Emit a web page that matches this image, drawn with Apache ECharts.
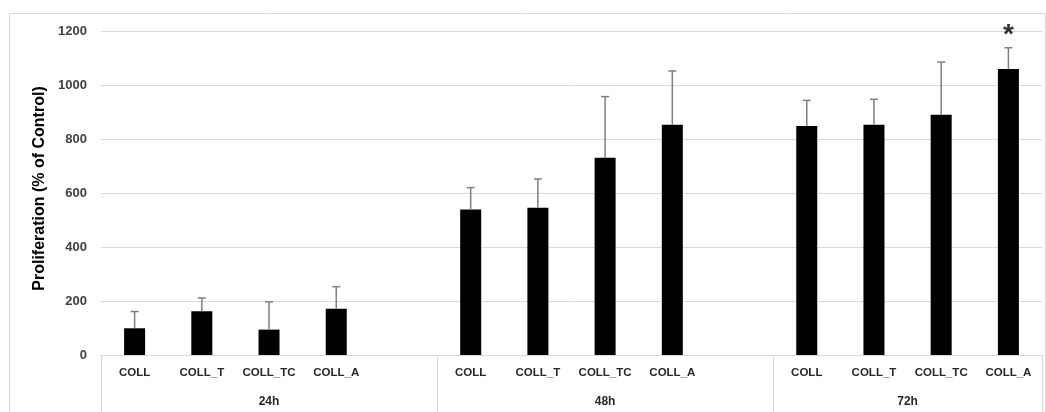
<!DOCTYPE html>
<html><head><meta charset="utf-8">
<script src="https://cdn.jsdelivr.net/npm/echarts@6/dist/echarts.min.js"></script>
<style>html,body{margin:0;padding:0;background:#fff}#c{width:1046px;height:412px}</style>
</head><body><div id="c"></div>
<script>
// ---- data ----
var conditions = ['COLL', 'COLL_T', 'COLL_TC', 'COLL_A'];
var groups = ['24h', '48h', '72h'];
var mean24 = [99, 162, 94, 171];
var sd24   = [62, 49, 103, 82];
var mean48 = [539, 545, 731, 853];
var sd48   = [81, 107, 226, 199];
var mean72 = [848, 853, 890, 1059];
var sd72   = [95, 94, 195, 79];
var significant = [[2, 3]]; // [group index, condition index] marked with *
var yTicks = [0, 200, 400, 600, 800, 1000, 1200];

// ---- build slots (4 bars + 1 gap per group, last group without gap) ----
var means = [mean24, mean48, mean72];
var sds = [sd24, sd48, sd72];
var cats = [], barData = [], errData = [], spans = [], starts = [];
groups.forEach(function (g, gi) {
  starts.push(cats.length);
  conditions.forEach(function (c, ci) {
    var idx = cats.length;
    cats.push(c);
    barData.push(means[gi][ci]);
    errData.push([idx, means[gi][ci], means[gi][ci] + sds[gi][ci]]);
  });
  if (gi < groups.length - 1) { cats.push(''); barData.push('-'); }
  spans.push(cats.length - starts[gi]);
});
var nSlots = cats.length;
// half-slot axis for group labels and dividers
var half = [], divAt = {};
for (var i = 0; i <= 2 * nSlots; i++) half.push('');
groups.forEach(function (g, gi) {
  half[2 * starts[gi] + spans[gi]] = g;
  divAt[2 * starts[gi]] = true;
});
divAt[2 * nSlots] = true;
var sigData = significant.map(function (s) {
  var idx = starts[s[0]] + s[1];
  return [idx, means[s[0]][s[1]] + sds[s[0]][s[1]]];
});

var chart = echarts.init(document.getElementById('c'), null, {renderer: 'canvas'});
chart.setOption({
  animation: false,
  backgroundColor: '#fff',
  graphic: [{
    type: 'rect', shape: {x: 9.5, y: 13.5, width: 1036, height: 420},
    style: {fill: 'none', stroke: '#d9d9d9', lineWidth: 1}, silent: true, z: -10
  }],
  grid: {left: 101, right: 4, top: 31, bottom: 57},
  xAxis: [{
    type: 'category', data: cats,
    axisLine: {lineStyle: {color: '#d9d9d9'}},
    axisTick: {show: false},
    axisLabel: {interval: 0, margin: 12, color: '#262633', fontWeight: 'bold',
      fontFamily: 'Liberation Sans', fontSize: 11.5}
  }, {
    type: 'category', data: half, boundaryGap: false, position: 'bottom',
    axisLine: {show: false},
    axisTick: {show: true, length: 60, lineStyle: {color: '#d9d9d9'},
      interval: function (i) { return !!divAt[i]; }},
    axisLabel: {interval: 0, margin: 41, color: '#262633', fontWeight: 'bold',
      fontFamily: 'Liberation Sans', fontSize: 12}
  }],
  yAxis: {
    type: 'value', min: 0, max: 1200, interval: 200,
    name: 'Proliferation (% of Control)', nameLocation: 'middle', nameGap: 50,
    nameTextStyle: {fontFamily: 'Liberation Sans', fontWeight: 'bold', fontSize: 16, color: '#000',
      padding: [0, 0, 0, 9]},
    axisLine: {show: false}, axisTick: {show: false},
    splitLine: {lineStyle: {color: '#d9d9d9'}},
    axisLabel: {margin: 14, color: '#404040', fontWeight: 'bold', fontFamily: 'Liberation Sans', fontSize: 13,
      formatter: function (v) { return yTicks.indexOf(v) >= 0 ? String(v) : ''; }}
  },
  series: [{
    type: 'bar', data: barData, barWidth: 21, itemStyle: {color: '#000'}, xAxisIndex: 0
  }, {
    type: 'custom', xAxisIndex: 0, data: errData, z: 3,
    renderItem: function (params, api) {
      var base = api.coord([api.value(0), api.value(1)]);
      var top = api.coord([api.value(0), api.value(2)]);
      var st = {stroke: '#7f7f7f', lineWidth: 1.5};
      return {type: 'group', children: [
        {type: 'line', shape: {x1: base[0], y1: base[1], x2: top[0], y2: top[1]}, style: st},
        {type: 'line', shape: {x1: top[0] - 4, y1: top[1], x2: top[0] + 4, y2: top[1]}, style: st}
      ]};
    }
  }, {
    type: 'scatter', xAxisIndex: 0, data: sigData, symbolSize: 0,
    label: {show: true, position: 'top', distance: -2, formatter: '*',
      fontSize: 28, fontWeight: 'bold', color: '#000', fontFamily: 'Liberation Sans'}
  }]
});
</script></body></html>
